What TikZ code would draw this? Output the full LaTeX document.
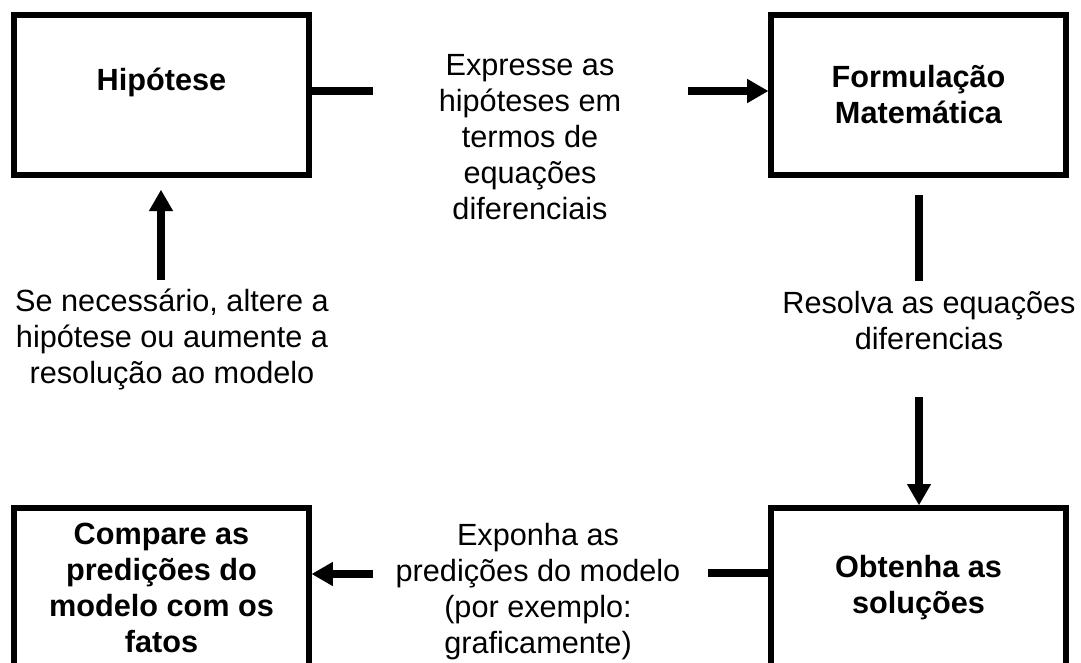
\documentclass[tikz,border=0pt]{standalone}
\usepackage{fontspec}
\setmainfont{Liberation Sans}
\usetikzlibrary{arrows.meta,positioning,calc}

\begin{document}
\begin{tikzpicture}[
    x=0.75pt, y=-0.75pt,
    block/.style={rectangle, draw, line width=4.3pt, minimum width=221pt, minimum height=120pt, inner sep=0pt, outer sep=0pt, align=center, font=\fontsize{23}{27}\selectfont\bfseries},
    note/.style={align=center, inner sep=0pt, font=\fontsize{23}{27}\selectfont},
    link/.style={line width=6.4pt},
    arrow/.style={link, -{Triangle[length=16pt, width=17pt]}}
]
\useasboundingbox (0,0) rectangle (1081,662);

% Blocks
\node[block] (hip) at (161.5,95) {Hipótese\\[-12pt]\strut};
\node[block] (form) at (918.5,95) {Formulação\\Matemática};
\node[block] (cmp) at (161.5,588) {Compare as\\predições do\\modelo com os\\fatos};
\node[block] (sol) at (918.5,588) {Obtenha as\\soluções};

% Step texts
\node[note] (expr) at (530,137) {Expresse as\\hipóteses em\\termos de\\equações\\diferenciais};
\node[note] (solve) at (929,321) {Resolva as equações\\diferencias};
\node[note] (revise) at (172,339) {Se necessário, altere a\\hipótese ou aumente a\\resolução ao modelo};
\node[note] (expo) at (538,592) {Exponha as\\predições do modelo\\(por exemplo:\\graficamente)};

% Loose ends of the links
\coordinate (e1) at (373,91);
\coordinate (e2) at (688,91);
\coordinate (s1) at (919,281);
\coordinate (s2) at (919,397);
\coordinate (x1) at (708,573);
\coordinate (x2) at (373,574);
\coordinate (r1) at (161,482);
\coordinate (r2) at (161,280);

% Links
\draw[link] (hip.east |- e1) -- (e1);
\draw[arrow, shorten >=2pt] (e2) -- (form.west |- e2);
\draw[link, shorten <=15pt] (s1 |- form.south) -- (s1);
\draw[arrow, shorten >=2pt] (s2) -- (sol.north -| s2);
\draw[link] (x1) -- (sol.west |- x1);
\draw[arrow, shorten >=2pt] (x2) -- (cmp.east |- x2);
\draw[link, shorten <=19.5pt] (cmp.north -| r1) -- (r1);
\draw[arrow, shorten >=11pt] (r2) -- (hip.south -| r2);

\end{tikzpicture}
\end{document}
